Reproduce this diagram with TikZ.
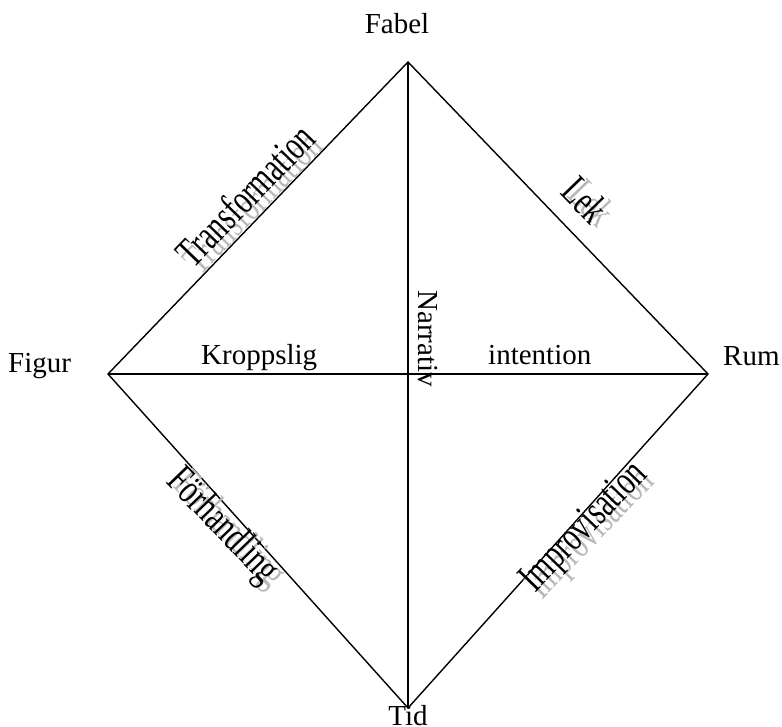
\documentclass[tikz,border=0pt]{standalone}
\usepackage{graphicx}
\usepackage{fontspec}
\setmainfont{Liberation Serif}
\newcommand{\tallword}[1]{\scalebox{1}[1.45]{#1}}
\begin{document}
\begin{tikzpicture}[x=1pt,y=1pt,
  edge/.style={line width=1.4pt,black,line join=miter},
  vlabel/.style={font=\fontsize{29}{34}\selectfont,inner sep=0pt},
  sidelabel/.style={font=\fontsize{29}{34}\selectfont,inner sep=0pt},
  shadowlabel/.style={sidelabel,text=black!28}]
\useasboundingbox (0,0) rectangle (782,727);
% corners of the diamond
\coordinate (top) at (408,665);
\coordinate (bot) at (408,19);
\coordinate (lft) at (108,353);
\coordinate (rgt) at (708,353);
% outline and cross
\draw[edge] (lft) -- (top) -- (rgt) -- (bot) -- cycle;
\draw[edge] (top) -- (bot);
\draw[edge] (lft) -- (rgt);
% corner names
\node[vlabel,anchor=base] (fabel) at (397,693) {Fabel};
\node[vlabel,anchor=base] (tid) at (408,1) {Tid};
\node[vlabel,anchor=base west] (figur) at (8,354) {Figur};
\node[vlabel,anchor=base west] (rum) at (723,361) {Rum};
% inner labels
\node[vlabel,anchor=base west] (kropp) at (201,362) {Kroppslig};
\node[vlabel,anchor=base west] (intent) at (488,362) {intention};
\node[vlabel,anchor=base west,rotate=-90] (narr) at (418,437) {Narrativ};
% edge labels, each over its grey shadow
\node[shadowlabel,rotate=46] (transS) at (252,525) {\tallword{Transformation}};
\node[sidelabel,rotate=46] (trans) at (245,532) {\tallword{Transformation}};
\node[shadowlabel,rotate=-46] (lekS) at (592,524) {\tallword{Lek}};
\node[sidelabel,rotate=-46] (lek) at (585,527) {\tallword{Lek}};
\node[shadowlabel,rotate=-46] (forhS) at (229,196) {\tallword{Förhandling}};
\node[sidelabel,rotate=-46] (forh) at (222,200) {\tallword{Förhandling}};
\node[shadowlabel,rotate=46] (imprS) at (592,192) {\tallword{Improvisation}};
\node[sidelabel,rotate=46] (impr) at (585,199) {\tallword{Improvisation}};
\end{tikzpicture}
\end{document}
